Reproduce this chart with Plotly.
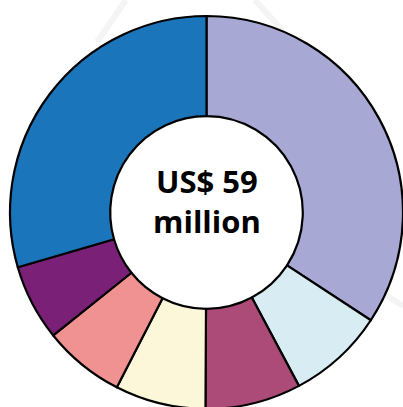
import plotly.graph_objects as go

# Funding breakdown (US$ million), clockwise from 12 o'clock
segments = ["Segment 1", "Segment 2", "Segment 3", "Segment 4",
            "Segment 5", "Segment 6", "Segment 7"]
values = [20.2, 4.7, 4.65, 4.4, 3.95, 3.7, 17.4]
colors = ["#a8a8d5", "#d8ecf4", "#ad4b78", "#fbf7d8",
          "#f09292", "#7a2177", "#1b75bb"]
center_lines = ["US$ 59", "million"]

W, H = 403, 410
L, R, T, B = 10, 0, 16, 1
plot_h = H - T - B


def py_to_paper(py):
    return 1 - (py - T) / plot_h


def px_to_paper(px):
    return (px - L) / (W - L - R)


fig = go.Figure(
    go.Pie(
        labels=segments,
        values=values,
        hole=0.49,
        sort=False,
        direction="clockwise",
        rotation=0,
        marker=dict(colors=colors, line=dict(color="#000000", width=2.2)),
        textinfo="none",
        hoverinfo="label+value",
        showlegend=False,
    )
)

# faint background strokes
for (x0, y0, x1, y1) in [(97, 42, 126, 0), (255, 0, 282, 30), (384, 294, 403, 306)]:
    fig.add_shape(
        type="line", xref="paper", yref="paper", layer="below",
        x0=px_to_paper(x0), y0=py_to_paper(y0),
        x1=px_to_paper(x1), y1=py_to_paper(y1),
        line=dict(color="#f4f4f4", width=6),
    )

for text, py in zip(center_lines, [181, 221]):
    fig.add_annotation(
        x=0.5, y=py_to_paper(py), xref="paper", yref="paper",
        text=f"<b>{text}</b>", showarrow=False,
        xanchor="center", yanchor="middle",
        font=dict(family="Open Sans", size=31, color="#000000"),
    )

fig.update_layout(
    width=W, height=H,
    margin=dict(l=L, r=R, t=T, b=B, pad=0),
    paper_bgcolor="#ffffff",
    plot_bgcolor="#ffffff",
)

fig.write_html(
    "out.html",
    config={"displayModeBar": False},
    post_script="document.body.style.margin='0';document.body.style.overflow='hidden';",
)
